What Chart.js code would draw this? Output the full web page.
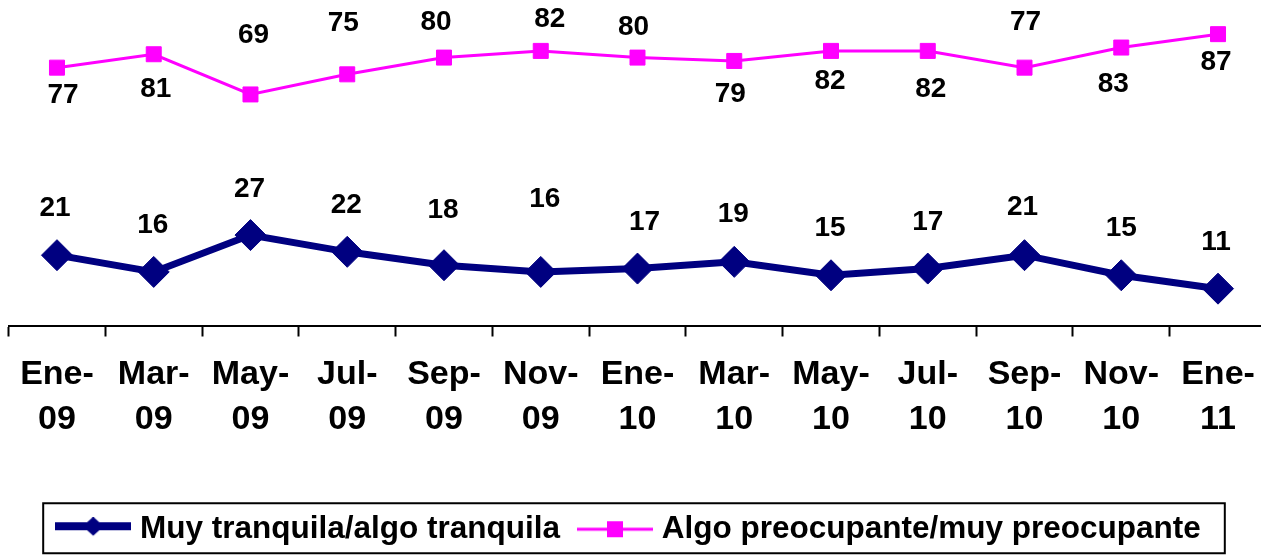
<!DOCTYPE html>
<html>
<head>
<meta charset="utf-8">
<script src="https://cdn.jsdelivr.net/npm/chart.js@4.4.1/dist/chart.umd.min.js"></script>
<style>
html,body{margin:0;padding:0;background:#fff;overflow:hidden}
#wrap{width:1275px;height:555px}
</style>
</head>
<body>
<div id="wrap"><canvas id="c" width="1275" height="555"></canvas></div>
<script>
// ---- data ----
const categories = [
  ['Ene-','09'],['Mar-','09'],['May-','09'],['Jul-','09'],['Sep-','09'],['Nov-','09'],
  ['Ene-','10'],['Mar-','10'],['May-','10'],['Jul-','10'],['Sep-','10'],['Nov-','10'],['Ene-','11']
];
const seriesNames = ['Muy tranquila/algo tranquila', 'Algo preocupante/muy preocupante'];
const tranquilaValues   = [21, 16, 27, 22, 18, 16, 17, 19, 15, 17, 21, 15, 11];
const preocupanteValues = [77, 81, 69, 75, 80, 82, 80, 79, 82, 82, 77, 83, 87];

// ---- label placement (style, relative to each point) ----
const tranquilaLabelDy   = [-47, -47, -46, -47, -55, -73, -46, -48, -47, -46, -48, -47, -46];
const tranquilaLabelDx   = [-2, -1, -1, -1, -1, 4, 7, -1, -1, 0, -2, 0, -2];
const preocupanteLabelDy = [28, 35, -59, -51, -35, -32, -30, 33, 30, 38, -45, 37, 28];
const preocupanteLabelDx = [6, 2, 3, -4, -8, 9, -4, -4, -1, 3, 1, -8, -2];

const NAVY = '#000080';
const MAGENTA = '#FF00FF';
const FONT = "'Liberation Sans', Arial, sans-serif";
Chart.defaults.font.family = FONT;
Chart.defaults.color = '#000';

const LEGEND_SHIFT = 6; // horizontal nudge of the legend row to the left

function legendIcon(kind) {
  const c = document.createElement('canvas');
  c.width = 76; c.height = 24;
  const g = c.getContext('2d');
  if (kind === 'diamond') {
    const cy = 9;
    g.fillStyle = NAVY;
    g.fillRect(0, cy - 4, 76, 8);
    g.beginPath();
    g.moveTo(38 - 10.5, cy); g.lineTo(38, cy - 9.5); g.lineTo(38 + 10.5, cy); g.lineTo(38, cy + 9.5);
    g.closePath(); g.fill();
  } else {
    const cy = 12;
    g.fillStyle = MAGENTA;
    g.fillRect(0, cy - 1.5, 76, 3);
    g.fillRect(30, cy - 8, 16, 16);
  }
  return c;
}
const icons = [legendIcon('diamond'), legendIcon('square')];

const labelOffsets = [
  {dx: tranquilaLabelDx, dy: tranquilaLabelDy},
  {dx: preocupanteLabelDx, dy: preocupanteLabelDy}
];

const valueLabels = {
  id: 'valueLabels',
  afterDatasetsDraw(chart) {
    const ctx = chart.ctx;
    ctx.save();
    ctx.font = 'bold 28px ' + FONT;
    ctx.fillStyle = '#000';
    ctx.textAlign = 'center';
    ctx.textBaseline = 'middle';
    chart.data.datasets.forEach((ds, di) => {
      const meta = chart.getDatasetMeta(di);
      meta.data.forEach((pt, i) => {
        const o = labelOffsets[di];
        ctx.fillText(String(ds.data[i]), pt.x + o.dx[i], pt.y + o.dy[i]);
      });
    });
    ctx.restore();
  }
};

const legendFrame = {
  id: 'legendFrame',
  beforeDraw(chart) {
    chart.legend.left -= 2 * LEGEND_SHIFT;
  },
  afterDraw(chart) {
    const lg = chart.legend;
    lg.left += 2 * LEGEND_SHIFT;
    const hb = lg.legendHitBoxes;
    if (!hb || !hb.length) return;
    const first = hb[0], last = hb[hb.length - 1];
    const cy = first.top + first.height / 2;
    const x0 = first.left - LEGEND_SHIFT - 19;
    const x1 = last.left - LEGEND_SHIFT + last.width + 24;
    const ctx = chart.ctx;
    ctx.save();
    ctx.strokeStyle = '#000';
    ctx.lineWidth = 2;
    ctx.strokeRect(x0, cy - 26, x1 - x0, 50);
    ctx.restore();
  }
};

new Chart(document.getElementById('c'), {
  type: 'line',
  data: {
    labels: categories,
    datasets: [
      {
        label: seriesNames[0],
        data: tranquilaValues,
        borderColor: NAVY,
        backgroundColor: NAVY,
        borderWidth: 7,
        pointStyle: 'rectRot',
        pointRadius: 15.5,
        pointBorderWidth: 1,
        pointBackgroundColor: NAVY,
        pointBorderColor: NAVY,
        tension: 0,
        fill: false
      },
      {
        label: seriesNames[1],
        data: preocupanteValues,
        borderColor: MAGENTA,
        backgroundColor: MAGENTA,
        borderWidth: 3,
        pointStyle: 'rect',
        pointRadius: 10.6,
        pointBorderWidth: 1,
        pointBackgroundColor: MAGENTA,
        pointBorderColor: MAGENTA,
        tension: 0,
        fill: false
      }
    ]
  },
  options: {
    responsive: false,
    animation: false,
    events: [],
    layout: { autoPadding: false, padding: { left: 8.6, right: 8.6, top: 0, bottom: 0 } },
    scales: {
      x: {
        type: 'category',
        offset: true,
        grid: {
          offset: true,
          drawOnChartArea: false,
          drawTicks: true,
          tickLength: 11,
          tickWidth: 2,
          tickColor: '#000'
        },
        border: { display: true, color: '#000', width: 2 },
        ticks: {
          autoSkip: false,
          maxRotation: 0,
          minRotation: 0,
          padding: 16,
          color: '#000',
          font: { size: 34, weight: 'bold', lineHeight: '45px' }
        },
        afterFit(scale) { scale.height = 164; scale.paddingLeft = 0; scale.paddingRight = 0; }
      },
      y: {
        display: false,
        min: 0,
        max: 97.2
      }
    },
    plugins: {
      tooltip: { enabled: false },
      legend: {
        display: true,
        position: 'bottom',
        align: 'center',
        labels: {
          usePointStyle: true,
          pointStyleWidth: 62,
          padding: 24,
          color: '#000',
          font: { size: 31.5, weight: 'bold' },
          generateLabels(chart) {
            const items = Chart.defaults.plugins.legend.labels.generateLabels(chart);
            items.forEach((it, i) => { it.pointStyle = icons[i]; it.fillStyle = 'transparent'; it.strokeStyle = 'transparent'; it.lineWidth = 0; });
            return items;
          }
        }
      }
    }
  },
  plugins: [valueLabels, legendFrame]
});
</script>
</body>
</html>
